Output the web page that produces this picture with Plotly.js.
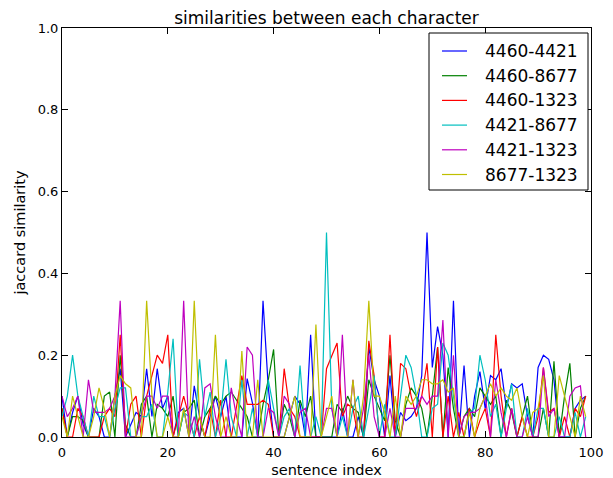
<!DOCTYPE html>
<html><head><meta charset="utf-8">
<script src="https://cdn.plot.ly/plotly-3.0.1.min.js"></script>
<style>body{margin:0;padding:0;background:#fff}#c{width:613px;height:478px}</style>
</head><body><div id="c"></div>
<script>
const seriesNames = ["4460-4421","4460-8677","4460-1323","4421-8677","4421-1323","8677-1323"];
const colors = ["#0000ff","#008000","#ff0000","#00bfbf","#bf00bf","#bfbf00"];
const s4460_4421 = [0.1,0,0.06,0.1,0.03,0,0.07,0.05,0,0,0.1,0.167,0,0.03,0.06,0.05,0.167,0.05,0.167,0.07,0.1,0,0.06,0.07,0,0.125,0.05,0,0.05,0.1,0.05,0.1,0,0,0,0.143,0.083,0,0.333,0.12,0,0,0,0.05,0.1,0.08,0,0.25,0,0,0,0,0,0.07,0,0,0.05,0,0.22,0.14,0.1,0,0.15,0,0.06,0.04,0.05,0.07,0.15,0.5,0.17,0.27,0.2,0,0.333,0,0.175,0,0.1,0.16,0.07,0.15,0.14,0.167,0.07,0.13,0.12,0.13,0.05,0,0.17,0.2,0.19,0.14,0,0,0,0.07,0.09,0.1];
const s4460_8677 = [0.07,0,0.05,0.05,0.04,0,0,0,0.1,0.11,0,0.2,0.03,0,0,0.08,0.1,0,0.08,0.07,0.05,0.1,0,0.06,0.07,0.09,0,0.05,0.07,0.1,0.08,0.1,0.11,0.09,0.07,0.05,0,0,0.08,0.14,0.214,0,0.08,0.05,0,0.09,0.05,0.1,0,0,0,0,0.08,0.06,0.1,0.07,0.06,0,0.14,0.1,0.07,0.04,0.2,0.04,0,0.08,0.12,0.1,0.07,0,0.1,0.22,0,0.17,0.07,0,0.05,0.07,0.05,0.12,0.1,0.08,0.1,0,0.09,0.06,0,0.05,0.1,0,0,0.07,0,0.185,0,0.1,0.18,0,0.07,0.1];
const s4460_1323 = [0.07,0,0,0.07,0.05,0,0,0,0.05,0.07,0.05,0.25,0,0.08,0.1,0,0.1,0.15,0.2,0.18,0.25,0,0.05,0.1,0.05,0,0.05,0,0.07,0,0.09,0,0,0.07,0.15,0.08,0.08,0.08,0.09,0.08,0,0,0.167,0.07,0.05,0,0,0,0,0,0.167,0.2,0.23,0.05,0.08,0.07,0,0,0.235,0.15,0,0,0.25,0,0.18,0.167,0.1,0.05,0.1,0.18,0,0.22,0,0.1,0,0.06,0,0.07,0,0.04,0.07,0,0.25,0.1,0,0.07,0,0.05,0,0,0.05,0.17,0.06,0.07,0,0.05,0,0.07,0.05,0.1];
const s4421_8677 = [0.05,0.1,0.2,0.1,0.05,0,0.1,0.05,0.05,0,0.07,0.12,0.12,0,0,0.05,0.05,0.08,0,0,0.11,0.24,0,0.06,0.05,0,0.19,0.05,0.11,0,0.05,0.19,0.05,0,0.14,0,0.07,0,0,0.14,0.07,0,0.05,0.07,0,0.175,0,0,0.05,0,0.5,0.07,0,0.05,0,0.07,0.1,0,0.07,0.15,0,0.08,0,0,0.1,0.2,0.17,0.1,0,0,0.07,0.08,0.23,0.2,0.1,0,0,0.06,0.07,0.2,0.14,0.05,0.08,0,0.07,0.13,0,0,0.07,0,0.07,0.07,0,0,0.05,0,0,0.06,0,0.05];
const s4421_1323 = [0.1,0.05,0.07,0.1,0,0.14,0.06,0.06,0.06,0.07,0.1,0.333,0,0,0,0.05,0.1,0.1,0.07,0.1,0.1,0,0,0.333,0,0.05,0,0.12,0.13,0.05,0,0,0.12,0.05,0,0.22,0.2,0,0,0.07,0.06,0,0.1,0.08,0,0.06,0.07,0,0,0,0.07,0.07,0,0.25,0,0.14,0,0.07,0.2,0.05,0,0,0.07,0,0,0.07,0.07,0.07,0.1,0.08,0.1,0.1,0.286,0,0.2,0,0.05,0.06,0.06,0.07,0.1,0,0.14,0.06,0,0.07,0,0,0.05,0,0,0.17,0.05,0.07,0,0,0.1,0.12,0.125,0];
const s8677_1323 = [0.05,0,0.1,0.05,0,0,0.05,0.12,0.07,0,0.1,0.15,0.13,0.12,0,0,0.333,0.1,0,0,0.05,0,0,0.07,0,0.333,0.05,0,0,0.25,0,0.05,0,0,0.21,0,0,0.14,0,0,0,0,0,0.05,0.1,0,0,0,0.275,0,0.05,0.1,0,0,0,0.14,0,0.1,0.333,0.1,0.1,0.06,0,0.1,0,0.1,0.08,0.1,0.14,0.14,0.13,0.13,0.14,0.11,0.12,0,0,0.06,0,0.07,0.1,0.13,0.1,0.12,0.1,0.09,0.12,0.05,0,0.06,0.07,0.15,0,0,0.15,0.1,0.05,0,0.1,0.05];
const allSeries = [s4460_4421,s4460_8677,s4460_1323,s4421_8677,s4421_1323,s8677_1323];
const xTicks = [0,20,40,60,80,100];
const yTicks = [0.0,0.2,0.4,0.6,0.8,1.0];
const xIdx = s4460_4421.map((_, i) => i);

const traces = allSeries.map((s, k) => ({
  x: xIdx, y: s, type: 'scatter', mode: 'lines', name: seriesNames[k],
  line: {color: colors[k], width: 1.2}, showlegend: false
}));
const FF = 'DejaVu Sans, sans-serif';
const axisBase = {
  showgrid: false, zeroline: false, showline: true, mirror: 'ticks',
  linecolor: '#000', linewidth: 1, ticks: 'inside', ticklen: 6, tickcolor: '#000',
  tickfont: {size: 13, family: FF, color: '#000'}
};

// legend drawn as a boxed key in paper coordinates
const PW = 529, PH = 409, PL = 62, PT = 28;
const px2x = p => (p - PL) / PW;
const py2y = p => (PT + PH - p) / PH;
const shapes = [{type: 'rect', xref: 'paper', yref: 'paper', x0: px2x(429), x1: px2x(588), y0: py2y(190), y1: py2y(33),
  line: {color: '#000', width: 1}, fillcolor: '#fff', layer: 'above'}];
const annotations = [];
seriesNames.forEach((n, k) => {
  const yy = py2y(51 + k * 24.7);
  shapes.push({type: 'line', xref: 'paper', yref: 'paper', x0: px2x(442), x1: px2x(467), y0: yy, y1: yy,
    line: {color: colors[k], width: 1.2}, layer: 'above'});
  annotations.push({xref: 'paper', yref: 'paper', x: px2x(483), y: yy, xanchor: 'left', yanchor: 'middle',
    text: n, showarrow: false, font: {size: 17, family: FF, color: '#000'}});
});

const layout = {
  width: 613, height: 478,
  margin: {l: 62, r: 22, t: 28, b: 41},
  paper_bgcolor: '#fff', plot_bgcolor: '#fff',
  font: {family: FF, color: '#000'},
  title: {text: 'similarities between each character', font: {size: 17, family: FF, color: '#000'}, x: 0.5, xref: 'paper', y: 1, yref: 'paper', yanchor: 'bottom', pad: {b: 4}},
  xaxis: Object.assign({}, axisBase, {range: [0, 100], tickvals: xTicks, ticktext: xTicks.map(String), ticklabelstandoff: 3,
    title: {text: 'sentence index', font: {size: 14.5, family: FF}, standoff: 6}}),
  yaxis: Object.assign({}, axisBase, {range: [0, 1], tickvals: yTicks, ticktext: yTicks.map(v => v.toFixed(1)),
    title: {text: 'jaccard similarity', font: {size: 14.5, family: FF}, standoff: 8}}),
  showlegend: false,
  shapes: shapes,
  annotations: annotations
};
Plotly.newPlot('c', traces, layout, {displayModeBar: false, staticPlot: true});
</script></body></html>
